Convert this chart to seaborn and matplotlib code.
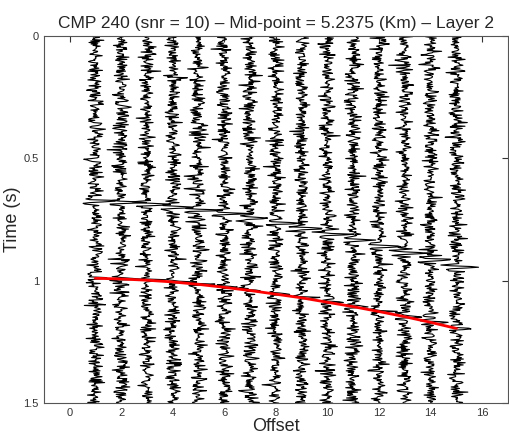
import numpy as np
import pandas as pd
import matplotlib
matplotlib.use("Agg")
import matplotlib.pyplot as plt
import seaborn as sns

# trace offsets and picked travel times (s)
offsets = [1, 2, 3, 4, 5, 6, 7, 8, 9, 10, 11, 12, 13, 14, 15]
event1_t = [0.675, 0.680, 0.688, 0.700, 0.712, 0.726, 0.745, 0.765,
            0.787, 0.810, 0.835, 0.860, 0.887, 0.915, 0.945]
event2_t = [0.990, 0.993, 0.998, 1.005, 1.015, 1.027, 1.040, 1.055,
            1.070, 1.088, 1.106, 1.126, 1.147, 1.170, 1.195]
xticks = [0, 2, 4, 6, 8, 10, 12, 14, 16]
yticks = [0, 0.5, 1, 1.5]

title = "CMP 240 (snr = 10) \u2013 Mid-point = 5.2375 (Km) \u2013 Layer 2"

# time axis and wavelet
dt = 0.003
t = np.arange(0, 1.5 + dt, dt)


def ricker(tt, t0, f=45.0):
    a = (np.pi * f * (tt - t0)) ** 2
    return (1 - 2 * a) * np.exp(-a)


# background noise is texture only (cannot be read trace by trace), fixed seed
rng = np.random.default_rng(240)
rows = []
for i, x in enumerate(offsets):
    tr = 0.15 * rng.standard_normal(t.size)
    tr += 0.9 * ricker(t, event1_t[i]) + 0.6 * ricker(t, event2_t[i])
    rows.append(pd.DataFrame({"trace": i, "x": x + tr, "t": t}))
df = pd.concat(rows, ignore_index=True)

sns.set_style("white")
plt.rcParams["font.family"] = ["Liberation Sans", "DejaVu Sans"]

fig = plt.figure(figsize=(5.09, 4.43), dpi=100)
ax = fig.add_axes([0.086, 0.090, 0.912, 0.829])

sns.lineplot(data=df, x="x", y="t", units="trace", estimator=None, sort=False,
             color="black", lw=0.8, ax=ax)
sns.lineplot(x=offsets, y=event2_t, color="red", lw=2.0, sort=False, ax=ax)

ax.set_xlim(-1, 17)
ax.set_ylim(1.5, 0)
ax.set_xticks(xticks)
ax.set_yticks(yticks)
ax.set_yticklabels(["0", "0.5", "1", "1.5"])
ax.tick_params(direction="in", length=4, width=0.8, labelsize=8, colors="#333333",
               top=True, right=True)
for s in ax.spines.values():
    s.set_color("#555555")
    s.set_linewidth(0.8)
ax.set_xlabel("Offset", fontsize=13, labelpad=0)
ax.set_ylabel("Time (s)", fontsize=13, labelpad=2)
ax.set_title(title, fontsize=12.5, pad=6)

fig.savefig("out.png", dpi=100)
